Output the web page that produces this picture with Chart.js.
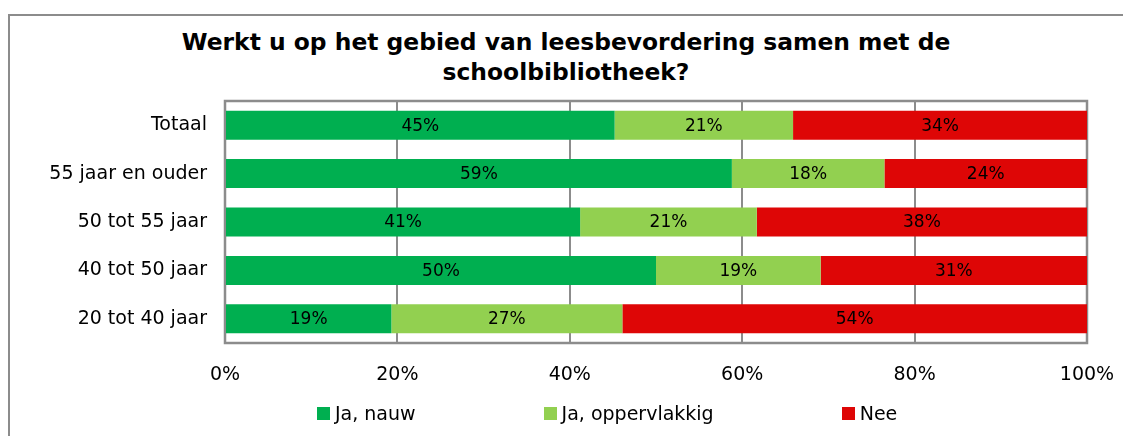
<!DOCTYPE html>
<html>
<head>
<meta charset="utf-8">
<script src="https://cdn.jsdelivr.net/npm/chart.js@4"></script>
<style>
body{ margin:0; background:#fff; font-family:"DejaVu Sans", Verdana, sans-serif; }
#wrap{ position:relative; width:1123px; height:436px; overflow:hidden; }
#frame{ position:absolute; left:8px; top:14px; width:1200px; height:500px; border:2px solid #8c8c8c; }
#title{ position:absolute; left:116px; width:900px; top:27px; text-align:center;
        font-weight:bold; font-size:23.4px; line-height:30px; color:#000; }
#legend{ position:absolute; left:317px; top:402px; display:flex; gap:128px; font-size:19px; color:#000; }
#legend .item{ display:flex; align-items:center; }
#legend .box{ width:13px; height:13px; margin-right:5px; }
canvas{ position:absolute; left:0; top:0; }
</style>
</head>
<body>
<div id="wrap">
  <div id="frame"></div>
  <div id="title">Werkt u op het gebied van leesbevordering samen met de<br>schoolbibliotheek?</div>
  <canvas id="myChart" width="1123" height="436"></canvas>
  <div id="legend"></div>
</div>
<script>

//------------------------------------------------------------------
// data (percentages)

var categories = ['Totaal', '55 jaar en ouder', '50 tot 55 jaar', '40 tot 50 jaar', '20 tot 40 jaar'];
var series_names = ['Ja, nauw', 'Ja, oppervlakkig', 'Nee'];
var series_colors = ['#00AF50', '#92D050', '#DE0606'];

var ja_nauw        = [45.2, 58.8, 41.2, 50.0, 19.3];
var ja_oppervlakkig = [20.7, 17.7, 20.5, 19.1, 26.8];
var nee            = [34.1, 23.5, 38.3, 30.9, 53.9];

var x_ticks = [0, 20, 40, 60, 80, 100];

//------------------------------------------------------------------

var all_values = [ja_nauw, ja_oppervlakkig, nee];
var font_name = '"DejaVu Sans", Verdana, sans-serif';

// value labels in the middle of every segment
var bar_labels = {
    id: 'bar_labels',
    afterDatasetsDraw(chart){
        var c = chart.ctx;
        c.save();
        c.font = '17px ' + font_name;
        c.fillStyle = '#000';
        c.textAlign = 'center';
        c.textBaseline = 'middle';
        chart.data.datasets.forEach(function(ds, i){
            chart.getDatasetMeta(i).data.forEach(function(bar, j){
                var v = ds.data[j];
                c.fillText(Math.round(v) + '%', (bar.x + bar.base) / 2, bar.y + 1);
            });
        });
        c.restore();
    }
};

// grey box round the plot area
var plot_frame = {
    id: 'plot_frame',
    beforeDatasetsDraw(chart){
        var a = chart.chartArea;
        var c = chart.ctx;
        c.save();
        c.strokeStyle = '#8c8c8c';
        c.lineWidth = 2.5;
        c.strokeRect(a.left, a.top, a.right - a.left, a.bottom - a.top);
        c.restore();
    }
};

var datasets = [];
for (let i = 0; i < series_names.length; i++) {
    datasets.push({
        label: series_names[i],
        data: all_values[i],
        backgroundColor: series_colors[i],
        borderWidth: 0,
        barPercentage: 0.6,
        categoryPercentage: 1.0
    });
}

const ctx = document.getElementById('myChart');

const kave_chart = new Chart(ctx, {
    type: 'bar',
    data: {
        labels: categories,
        datasets: datasets
    },
    options: {
        indexAxis: 'y',
        responsive: false,
        animation: false,
        layout: { padding: { top: 101, right: 36, left: 0, bottom: 0 } },
        plugins: {
            legend: { display: false },
            tooltip: { enabled: false }
        },
        scales: {
            x: {
                stacked: true,
                min: 0,
                max: 100,
                afterBuildTicks: function(scale){
                    scale.ticks = x_ticks.map(function(v){ return { value: v }; });
                },
                afterFit: function(scale){
                    scale.height = 93;
                    scale.paddingLeft = 0;
                    scale.paddingRight = 0;
                },
                ticks: {
                    callback: function(v){ return v + '%'; },
                    font: { family: font_name, size: 19 },
                    color: '#000',
                    padding: 21,
                    maxRotation: 0
                },
                grid: { color: '#8c8c8c', lineWidth: 2, drawTicks: false },
                border: { display: false }
            },
            y: {
                stacked: true,
                afterFit: function(scale){
                    scale.width = 225;
                    scale.paddingTop = 0;
                    scale.paddingBottom = 0;
                },
                ticks: {
                    font: { family: font_name, size: 19 },
                    color: '#000',
                    padding: 18
                },
                grid: { display: false, drawTicks: false },
                border: { display: false }
            }
        }
    },
    plugins: [plot_frame, bar_labels]
});

// legend
var lg = document.getElementById('legend');
for (let i = 0; i < series_names.length; i++) {
    var it = document.createElement('div');
    it.className = 'item';
    it.innerHTML = '<span class="box" style="background:' + series_colors[i] + '"></span><span>' + series_names[i] + '</span>';
    lg.appendChild(it);
}

</script>
</body>
</html>
